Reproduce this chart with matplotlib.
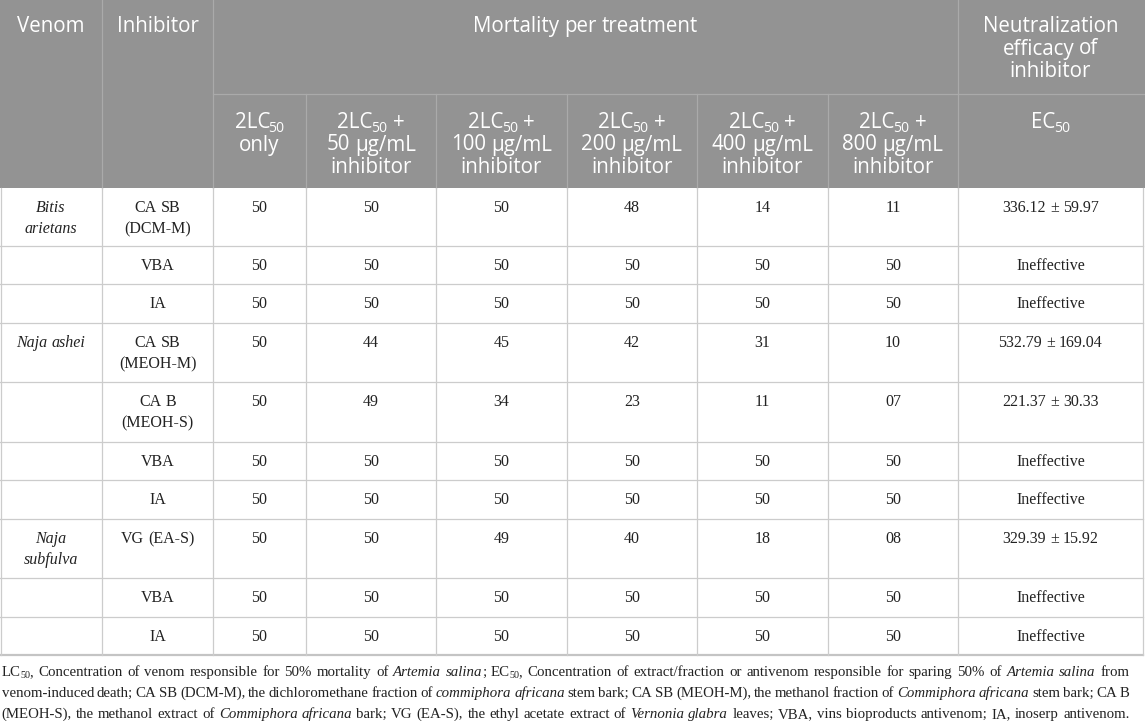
import re
import matplotlib
matplotlib.use("Agg")
import matplotlib.pyplot as plt
from matplotlib.patches import Rectangle

# table content
venom_names = ["*Bitis*|*arietans*", "", "", "*Naja ashei*", "", "", "", "*Naja*|*subfulva*", "", ""]
inhibitors = ["CA SB|(DCM-M)", "VBA", "IA", "CA SB|(MEOH-M)", "CA B|(MEOH-S)",
              "VBA", "IA", "VG (EA-S)", "VBA", "IA"]
doses = [50, 100, 200, 400, 800]
mort_only = [50, 50, 50, 50, 50, 50, 50, 50, 50, 50]
mort_50 = [50, 50, 50, 44, 49, 50, 50, 50, 50, 50]
mort_100 = [50, 50, 50, 45, 34, 50, 50, 49, 50, 50]
mort_200 = [48, 50, 50, 42, 23, 50, 50, 40, 50, 50]
mort_400 = [14, 50, 50, 31, 11, 50, 50, 18, 50, 50]
mort_800 = [11, 50, 50, 10, 7, 50, 50, 8, 50, 50]
ec50_mean = [336.12, None, None, 532.79, 221.37, None, None, 329.39, None, None]
ec50_sd = [59.97, None, None, 169.04, 30.33, None, None, 15.92, None, None]

footnote = [
    "LC_{50}, Concentration of venom responsible for 50% mortality of *Artemia salina*; EC_{50}, "
    "Concentration of extract/fraction or antivenom responsible for sparing 50% of *Artemia salina* from",
    "venom-induced death; CA SB (DCM-M), the dichloromethane fraction of *commiphora africana* stem bark; "
    "CA SB (MEOH-M), the methanol fraction of *Commiphora africana* stem bark; CA B",
    "(MEOH-S), the methanol extract of *Commiphora africana* bark; VG (EA-S), the ethyl acetate extract of "
    "*Vernonia glabra* leaves; VBA, vins bioproducts antivenom; IA, inoserp antivenom.",
]

# layout (pixels)
col_x = [0, 102, 213, 306, 436, 567, 697, 828, 958, 1143]
row_y = [188, 246, 284, 323, 382, 442, 480, 519, 578, 617, 655]
head_mid = 94
HEAD_BG = "#939393"
HEAD_LINE = "#aaaaaa"
GRID = "#cccccc"
SANS = "Open Sans"
SERIF = "Liberation Serif"
TXT = "#222222"

fig = plt.figure(figsize=(11.45, 7.21), dpi=100)
ax = fig.add_axes([0, 0, 1, 1])
ax.set_xlim(0, 1145)
ax.set_ylim(721, 0)
ax.axis("off")
renderer = fig.canvas.get_renderer()

_space = {}


def space_w(family, size):
    key = (family, size)
    if key not in _space:
        a = ax.text(0, 0, "x x", fontsize=size, family=family)
        b = ax.text(0, 0, "xx", fontsize=size, family=family)
        _space[key] = a.get_window_extent(renderer).width - b.get_window_extent(renderer).width
        a.remove()
        b.remove()
    return _space[key]


def parse_words(line):
    # '*' toggles italic, _{..} is a subscript
    words, italic = [], False
    for w in line.split(" "):
        runs = []
        for tok in re.split(r"(\*|_\{[^}]*\})", w):
            if tok == "":
                continue
            if tok == "*":
                italic = not italic
            elif tok.startswith("_{"):
                runs.append((tok[2:-1], "sub", italic))
            else:
                runs.append((tok, "n", italic))
        words.append(runs)
    return words


def put_line(x, y, line, size, family, color, ha="center", width=None, drop=0.18, kern=1.5):
    words = parse_words(line)
    objs, wws = [], []
    for runs in words:
        row = []
        for s, kind, it in runs:
            fs = size * 0.68 if kind == "sub" else size
            dy = drop * size * 100 / 72 if kind == "sub" else 0
            t = ax.text(0, y + dy, s, fontsize=fs, family=family, color=color,
                        style="italic" if it else "normal", va="baseline", ha="left")
            row.append((t, t.get_window_extent(renderer).width))
        objs.append(row)
        wws.append(sum(w for _, w in row) - kern * (len(row) - 1))
    gap = space_w(family, size)
    if width is not None and len(words) > 1:
        gap = (width - sum(wws)) / (len(words) - 1)
    total = sum(wws) + gap * (len(words) - 1)
    cx = x - total / 2 if ha == "center" else x
    for row, ww in zip(objs, wws):
        px = cx
        for t, w in row:
            t.set_x(px)
            px += w - kern
        cx += ww + gap


def put_cell(xc, y0, text, size, family, color, lead, step):
    for i, ln in enumerate(text.split("|")):
        put_line(xc, y0 + lead + i * step, ln, size, family, color)


# header background and lines
ax.add_patch(Rectangle((0, 0), 1145, row_y[0], facecolor=HEAD_BG, edgecolor="none"))
for xv in [col_x[1], col_x[2], col_x[8]]:
    ax.plot([xv, xv], [0, row_y[0]], color=HEAD_LINE, lw=0.9)
for xv in col_x[3:8]:
    ax.plot([xv, xv], [head_mid, row_y[0]], color=HEAD_LINE, lw=0.9)
ax.plot([col_x[2], 1145], [head_mid, head_mid], color=HEAD_LINE, lw=0.9)

centers = [(col_x[i] + col_x[i + 1]) / 2 for i in range(len(col_x) - 1)]
HS = 14.8
HSTEP = 22.5
put_cell(centers[0], 0, "Venom", HS, SANS, "white", 32, HSTEP)
put_cell(centers[1], 0, "Inhibitor", HS, SANS, "white", 32, HSTEP)
put_cell((col_x[2] + col_x[8]) / 2, 0, "Mortality per treatment", HS, SANS, "white", 32, HSTEP)
put_cell(centers[8], 0, "Neutralization|efficacy of|inhibitor", HS, SANS, "white", 32, HSTEP)
put_cell(centers[2], head_mid, "2LC_{50}|only", HS, SANS, "white", 34, HSTEP)
for i, d in enumerate(doses):
    put_cell(centers[3 + i], head_mid, f"2LC_{{50}} +|{d} µg/mL|inhibitor", HS, SANS, "white", 34, HSTEP)
put_cell(centers[8], head_mid, "EC_{50}", HS, SANS, "white", 34, HSTEP)

# body lines
for yv in row_y[1:-1]:
    ax.plot([0, 1143], [yv, yv], color=GRID, lw=0.9)
ax.plot([0, 1143], [row_y[-1], row_y[-1]], color="#c4c4c4", lw=1.6)
for xv in [0.6] + col_x[1:-1] + [1143]:
    ax.plot([xv, xv], [row_y[0], row_y[-1]], color=GRID, lw=0.9)

# body text
BS = 11.5
columns = [venom_names, inhibitors,
           [f"{v:02d}" for v in mort_only], [f"{v:02d}" for v in mort_50],
           [f"{v:02d}" for v in mort_100], [f"{v:02d}" for v in mort_200],
           [f"{v:02d}" for v in mort_400], [f"{v:02d}" for v in mort_800],
           ["Ineffective" if m is None else f"{m:.2f} ± {s:.2f}" for m, s in zip(ec50_mean, ec50_sd)]]
for ci, col in enumerate(columns):
    for ri, val in enumerate(col):
        if val:
            put_cell(centers[ci], row_y[ri], val, BS, SERIF, TXT, 24, 21)

# footnote, justified
for i, ln in enumerate(footnote):
    put_line(1.5, 676 + i * 21, ln, 10.75, SERIF, TXT, ha="left", width=1128, drop=0.16, kern=0.5)

fig.savefig("out.png", dpi=100, facecolor="white")
